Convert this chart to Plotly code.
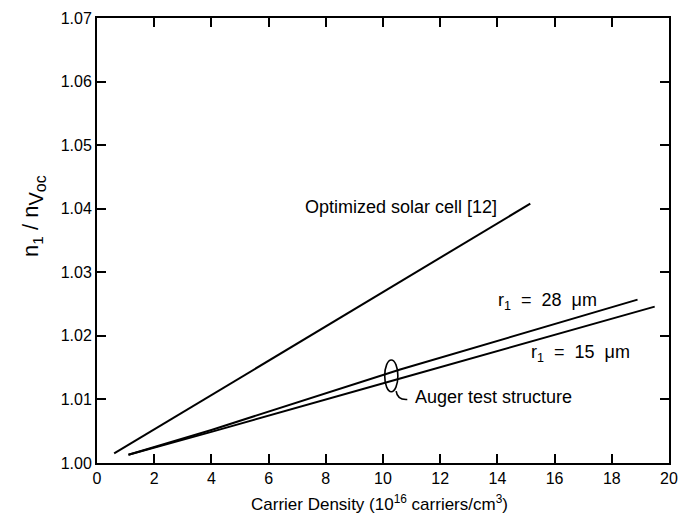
import plotly.graph_objects as go

# Carrier density (10^16 cm^-3) and ideality-factor ratio for each curve
optimized_x = [0.6, 15.15]
optimized_y = [1.0015, 1.0408]

r28_x = [1.1, 4.0, 10.6, 18.9]
r28_y = [1.0013, 1.0052, 1.0147, 1.0257]

r15_x = [1.1, 4.0, 10.6, 19.5]
r15_y = [1.0013, 1.0049, 1.0133, 1.0246]

x_ticks = [0, 2, 4, 6, 8, 10, 12, 14, 16, 18, 20]
y_ticks = [1.00, 1.01, 1.02, 1.03, 1.04, 1.05, 1.06, 1.07]

FONT = "Liberation Sans, Arial, Helvetica, sans-serif"
line_style = dict(color="black", width=2)

fig = go.Figure()
for xs, ys in [(optimized_x, optimized_y), (r28_x, r28_y), (r15_x, r15_y)]:
    fig.add_trace(go.Scatter(x=xs, y=ys, mode="lines", line=line_style,
                             showlegend=False, hoverinfo="skip"))

annotations = [
    dict(x=10.62, y=1.0402, text="Optimized solar cell [12]", xanchor="center"),
    dict(x=15.76, y=1.0254, text="r<sub>1</sub>  =  28  μm", xanchor="center"),
    dict(x=16.9, y=1.0172, text="r<sub>1</sub>  =  15  μm", xanchor="center"),
    dict(x=11.04, y=1.0104, text="Auger test structure", xanchor="left"),
]
for a in annotations:
    fig.add_annotation(x=a["x"], y=a["y"], text=a["text"], xanchor=a["xanchor"],
                       yanchor="middle", showarrow=False,
                       font=dict(family=FONT, size=18, color="black"))

# Axis titles placed in paper coordinates
x_title = "Carrier Density (10<sup>16</sup> carriers/cm<sup>3</sup>)"
y_title = ("n<sub>1</sub> / n<sub><span style='font-size:20px'>V</span>"
           "<sub><span style='font-size:16px'>oc</span></sub></sub>")
fig.add_annotation(xref="paper", yref="paper", x=0.494, y=-0.09, text=x_title,
                   showarrow=False, xanchor="center", yanchor="middle",
                   font=dict(family=FONT, size=17, color="black"))
fig.add_annotation(xref="paper", yref="paper", x=-0.112, y=0.555, text=y_title,
                   showarrow=False, xanchor="center", yanchor="middle", textangle=-90,
                   font=dict(family=FONT, size=22, color="black"))

# Ellipse grouping the two Auger curves, with a leader to its label
fig.add_shape(type="circle", xref="x", yref="y",
              x0=10.06, x1=10.52, y0=1.0112, y1=1.0162,
              line=dict(color="black", width=1.6))
fig.add_shape(type="path", xref="x", yref="y",
              path="M 10.46,1.0113 Q 10.5,1.0099 10.85,1.0100",
              line=dict(color="black", width=1.6))

axis_common = dict(showline=True, linecolor="black", linewidth=2, mirror="ticks",
                   ticks="inside", ticklen=9, tickwidth=1.5, tickcolor="black",
                   showgrid=False, zeroline=False, automargin=False,
                   tickfont=dict(family=FONT, size=16, color="black"))

fig.update_xaxes(range=[0, 20], tickvals=x_ticks, **axis_common)
fig.update_yaxes(range=[1.00, 1.07], tickvals=y_ticks, tickformat=".2f", **axis_common)

fig.update_layout(width=690, height=519, margin=dict(l=97, r=21, t=18, b=56),
                  paper_bgcolor="white", plot_bgcolor="white")

fig.write_html("out.html")
